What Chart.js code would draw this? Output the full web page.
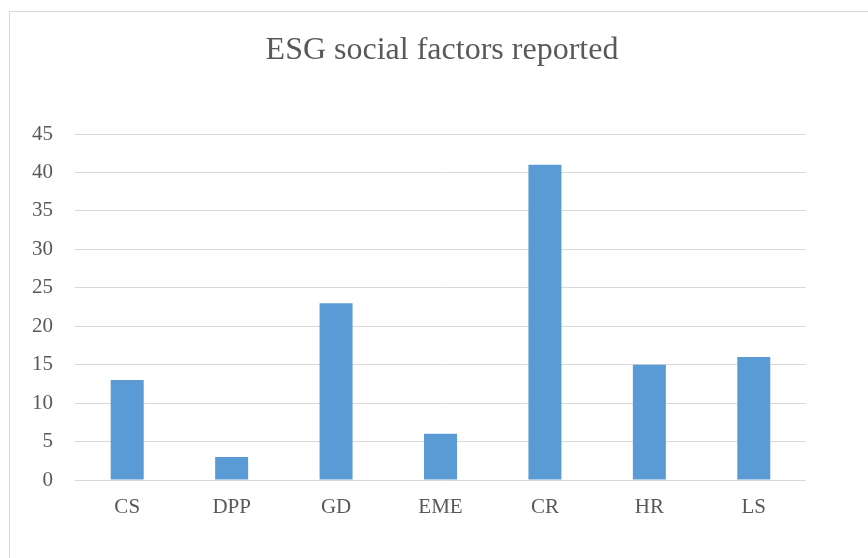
<!DOCTYPE html>
<html>
<head>
<meta charset="utf-8">
<script src="https://cdn.jsdelivr.net/npm/chart.js@4/dist/chart.umd.min.js"></script>
<style>
  html, body { margin: 0; padding: 0; background: #fff; }
  #wrap { position: relative; width: 868px; height: 558px; overflow: hidden; }
  #frame { position: absolute; left: 9px; top: 11px; width: 900px; height: 600px;
           border-left: 1px solid #d9d9d9; border-top: 1px solid #d9d9d9; }
  canvas { position: absolute; left: 0; top: 0; }
</style>
</head>
<body>
<div id="wrap">
  <div id="frame"></div>
  <canvas id="chart" width="868" height="558"></canvas>
</div>
<script>
// chart values
const categories = ['CS', 'DPP', 'GD', 'EME', 'CR', 'HR', 'LS'];
const reported = [13, 3, 23, 6, 41, 15, 16];

const textColor = '#595959';
const serif = "'Liberation Serif', 'Times New Roman', serif";

const ctx = document.getElementById('chart').getContext('2d');
const myChart = new Chart(ctx, {
    type: 'bar',
    data: {
        labels: categories,
        datasets: [{
            label: 'ESG social factors reported',
            data: reported,
            backgroundColor: '#5b9bd5',
            borderWidth: 0,
            barPercentage: 0.316,
            categoryPercentage: 1
        }]
    },
    options: {
        responsive: false,
        animation: false,
        layout: { padding: { left: 16, right: 0, top: 0, bottom: 0 } },
        plugins: {
            legend: { display: false },
            tooltip: { enabled: false },
            title: {
                display: true,
                text: 'ESG social factors reported',
                color: textColor,
                font: { family: serif, size: 32, weight: 'normal', lineHeight: 1 },
                padding: { top: 35, bottom: 67 }
            }
        },
        scales: {
            x: {
                grid: { display: false, drawTicks: false },
                border: { display: false },
                ticks: {
                    color: textColor,
                    padding: 15,
                    font: { family: serif, size: 21 }
                },
                afterFit: function (scale) { scale.height = 78; }
            },
            y: {
                min: 0,
                max: 45,
                grid: { color: '#d9d9d9', lineWidth: 1, drawTicks: false },
                border: { display: false },
                ticks: {
                    stepSize: 5,
                    color: textColor,
                    padding: 22,
                    font: { family: serif, size: 21 }
                },
                afterFit: function (scale) { scale.width = 59; }
            },
            // empty right axis, only keeps the plot area narrower than the title box
            yRight: {
                position: 'right',
                min: 0,
                max: 45,
                grid: { display: false, drawTicks: false },
                border: { display: false },
                ticks: { display: false },
                afterFit: function (scale) { scale.width = 62; }
            }
        }
    }
});
</script>
</body>
</html>
